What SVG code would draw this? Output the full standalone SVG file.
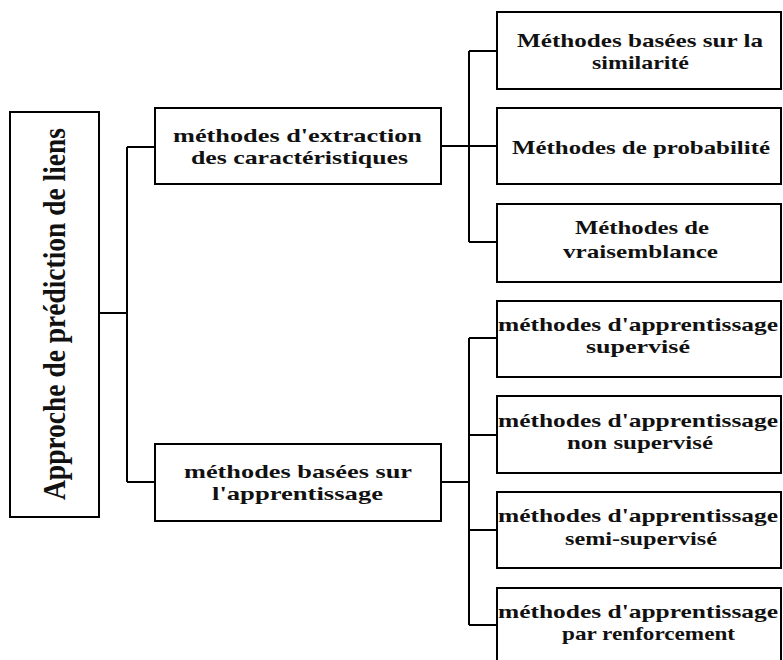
<svg xmlns="http://www.w3.org/2000/svg" width="783" height="660" viewBox="0 0 783 660">
<style>
  .box { fill: #ffffff; stroke: #000000; stroke-width: 2; }
  .conn { fill: none; stroke: #000000; stroke-width: 2; }
  .t { font-family: "Liberation Serif", "Times New Roman", serif; font-weight: bold; font-size: 19.5px; fill: #111111; }
  .title { font-family: "Liberation Serif", "Times New Roman", serif; font-weight: bold; font-size: 27.5px; fill: #111111; }
</style>
<rect x="0" y="0" width="783" height="660" fill="#ffffff"/>
<g id="connectors">
  <path class="conn" d="M99 313 H127 M127 147 V482 M127 147 H155 M127 482 H155"/>
  <path class="conn" d="M441 146 H469 M469 51 V242 M469 51 H497 M469 146 H497 M469 242 H497"/>
  <path class="conn" d="M441 482 H469 M469 338 V625 M469 338 H497 M469 435 H497 M469 530 H497 M469 625 H497"/>
</g>
<g id="root">
  <rect class="box" x="10" y="112" width="89" height="405"/>
  <text class="title" transform="translate(65,314) scale(1.18,1) rotate(-90)" x="-186" y="0" textLength="372" lengthAdjust="spacingAndGlyphs">Approche de prédiction de liens</text>
</g>
<g id="extraction">
  <rect class="box" x="155" y="108" width="286" height="76"/>
  <text class="t" x="173" y="142" textLength="249" lengthAdjust="spacingAndGlyphs">méthodes d'extraction</text>
  <text class="t" x="191" y="164" textLength="217" lengthAdjust="spacingAndGlyphs">des caractéristiques</text>
</g>
<g id="apprentissage">
  <rect class="box" x="155" y="444" width="286" height="77"/>
  <text class="t" x="184" y="478" textLength="228" lengthAdjust="spacingAndGlyphs">méthodes basées sur</text>
  <text class="t" x="212" y="500" textLength="171" lengthAdjust="spacingAndGlyphs">l'apprentissage</text>
</g>
<g id="similarite">
  <rect class="box" x="497" y="12" width="284" height="77"/>
  <text class="t" x="517" y="47" textLength="246" lengthAdjust="spacingAndGlyphs">Méthodes basées sur la</text>
  <text class="t" x="592" y="69" textLength="97" lengthAdjust="spacingAndGlyphs">similarité</text>
</g>
<g id="probabilite">
  <rect class="box" x="497" y="108" width="284" height="76"/>
  <text class="t" x="512" y="154" textLength="258" lengthAdjust="spacingAndGlyphs">Méthodes de probabilité</text>
</g>
<g id="vraisemblance">
  <rect class="box" x="497" y="204" width="284" height="78"/>
  <text class="t" x="575" y="234" textLength="134" lengthAdjust="spacingAndGlyphs">Méthodes de</text>
  <text class="t" x="563" y="258" textLength="155" lengthAdjust="spacingAndGlyphs">vraisemblance</text>
</g>
<g id="supervise">
  <rect class="box" x="497" y="301" width="284" height="76"/>
  <text class="t" x="498" y="331" textLength="280" lengthAdjust="spacingAndGlyphs">méthodes d'apprentissage</text>
  <text class="t" x="586" y="353" textLength="104" lengthAdjust="spacingAndGlyphs">supervisé</text>
</g>
<g id="non-supervise">
  <rect class="box" x="497" y="396" width="284" height="77"/>
  <text class="t" x="498" y="427" textLength="280" lengthAdjust="spacingAndGlyphs">méthodes d'apprentissage</text>
  <text class="t" x="567" y="449" textLength="146" lengthAdjust="spacingAndGlyphs">non supervisé</text>
</g>
<g id="semi-supervise">
  <rect class="box" x="497" y="492" width="284" height="76"/>
  <text class="t" x="498" y="522" textLength="280" lengthAdjust="spacingAndGlyphs">méthodes d'apprentissage</text>
  <text class="t" x="565" y="545" textLength="152" lengthAdjust="spacingAndGlyphs">semi-supervisé</text>
</g>
<g id="renforcement">
  <rect class="box" x="497" y="588" width="284" height="80"/>
  <text class="t" x="498" y="618" textLength="280" lengthAdjust="spacingAndGlyphs">méthodes d'apprentissage</text>
  <text class="t" x="562" y="640" textLength="173" lengthAdjust="spacingAndGlyphs">par renforcement</text>
</g>
</svg>
